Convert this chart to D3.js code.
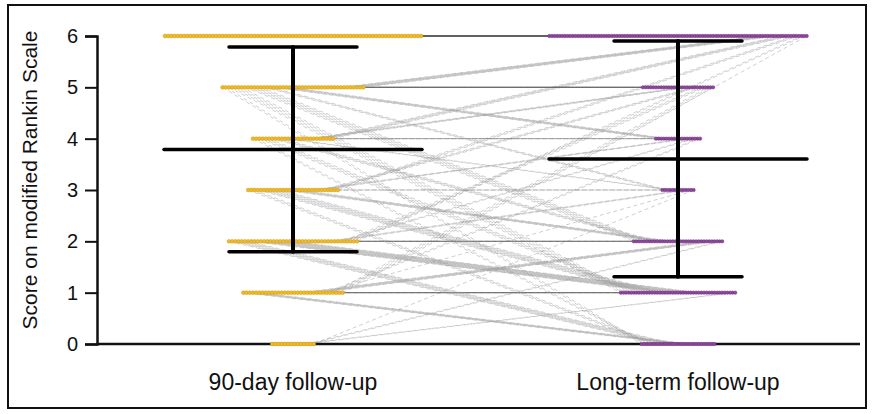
<!DOCTYPE html>
<html>
<head>
<meta charset="utf-8">
<script src="https://cdn.jsdelivr.net/npm/d3@7"></script>
<style>
  body { margin: 0; background: #fff; }
  text { font-family: "Liberation Sans", Arial, sans-serif; fill: #111; }
</style>
</head>
<body>
<svg id="chart" width="873" height="414"></svg>
<script>
// Categories (time points) and score levels
const categories = ["90-day follow-up", "Long-term follow-up"]
const scores = [0, 1, 2, 3, 4, 5, 6]
const yTicks = [0, 1, 2, 3, 4, 5, 6]

// Patient counts: row = score at 90 days, column = score at long-term follow-up
const transitions = [
  // to: 0  1   2   3  4   5   6
  [9, 2, 2, 1, 0, 0, 0],    // from 0
  [6, 12, 7, 1, 2, 3, 1],   // from 1
  [7, 14, 10, 3, 2, 3, 2],  // from 2
  [3, 8, 6, 3, 3, 3, 3],    // from 3
  [2, 4, 4, 2, 5, 4, 5],    // from 4
  [2, 5, 6, 3, 6, 15, 8],   // from 5
  [0, 0, 0, 0, 0, 0, 81]    // from 6
]

const colors = ["#f0bb2b", "#8e4a9c"]
const strokes = ["#d39b10", "#6f2c7e"]
const spacing = [3.2, 2.6]
const radius = [1.9, 1.7]

const margin = {top: 36, right: 13, bottom: 70, left: 97}
const width = 873
const height = 414

const svg = d3.select("#chart")

// frame
svg.append("rect")
    .attr("x", 8).attr("y", 5)
    .attr("width", 858).attr("height", 403)
    .attr("fill", "none")
    .attr("stroke", "#111")
    .attr("stroke-width", 2)

const y = d3.scaleLinear()
    .domain([0, 6])
    .range([height - margin.bottom, margin.top])

const x = d3.scalePoint()
    .domain(categories)
    .range([100.5, 870.5])
    .padding(0.5)

// Build patients from the transition table
let patients = []
transitions.forEach((row, from) => {
  row.forEach((n, to) => {
    for (let k = 0; k < n; k++) patients.push({from, to})
  })
})

// Place dots: left groups sorted by target ascending, right groups by source descending
function place(key, col, sorter) {
  scores.forEach(s => {
    const grp = patients.filter(p => p[key] === s).sort(sorter)
    const n = grp.length
    grp.forEach((p, i) => {
      p["x" + col] = x(categories[col]) + (i - (n - 1) / 2) * spacing[col]
    })
  })
}
place("from", 0, (a, b) => a.to - b.to)
place("to", 1, (a, b) => b.from - a.from)

// connecting lines
svg.append("g")
  .selectAll("line")
  .data(patients)
  .join("line")
    .attr("x1", d => d.x0)
    .attr("y1", d => y(d.from))
    .attr("x2", d => d.x1)
    .attr("y2", d => y(d.to))
    .attr("stroke", d => d.from === d.to ? "#666" : "#9a9a9a")
    .attr("stroke-opacity", d => d.from === d.to ? 0.4 : 0.6)
    .attr("stroke-width", 0.8)
    .attr("stroke-dasharray", "4,3")

// axes
const yAxis = svg.append("g")
    .attr("transform", `translate(${margin.left},0)`)
    .call(d3.axisLeft(y).tickValues(yTicks).tickFormat(d3.format("d")).tickSize(12).tickPadding(7))
yAxis.select(".domain").attr("stroke-width", 2.5).attr("stroke", "#111")
yAxis.selectAll(".tick line").attr("stroke-width", 2).attr("stroke", "#111")
yAxis.selectAll(".tick text")
    .attr("font-size", 20)
    .attr("font-family", "Liberation Sans, Arial, sans-serif")
    .style("fill", "#111")

svg.append("line")
    .attr("x1", margin.left).attr("x2", 860)
    .attr("y1", y(0)).attr("y2", y(0))
    .attr("stroke", "#111")
    .attr("stroke-width", 2.5)

// dots
categories.forEach((c, col) => {
  svg.append("g")
    .selectAll("circle")
    .data(patients)
    .join("circle")
      .attr("cx", d => d["x" + col])
      .attr("cy", d => y(col === 0 ? d.from : d.to))
      .attr("r", radius[col])
      .attr("fill", colors[col])
      .attr("stroke", strokes[col])
      .attr("stroke-width", 0.5)
})

// mean and SD bars
categories.forEach((c, col) => {
  const vals = patients.map(p => col === 0 ? p.from : p.to)
  const m = d3.mean(vals)
  const sd = d3.deviation(vals)
  const cx = x(c)
  const g = svg.append("g")
      .attr("stroke", "#000")
      .attr("stroke-linecap", "round")
  g.append("line")
      .attr("x1", cx).attr("x2", cx)
      .attr("y1", y(m - sd)).attr("y2", y(m + sd))
      .attr("stroke-width", 4)
  g.append("line")
      .attr("x1", cx - 129).attr("x2", cx + 129)
      .attr("y1", y(m)).attr("y2", y(m))
      .attr("stroke-width", 3.5)
  ;[m - sd, m + sd].forEach(v => {
    g.append("line")
        .attr("x1", cx - 64).attr("x2", cx + 64)
        .attr("y1", y(v)).attr("y2", y(v))
        .attr("stroke-width", 3.5)
  })
})

// category labels
svg.append("g")
  .selectAll("text")
  .data(categories)
  .join("text")
    .attr("x", d => x(d))
    .attr("y", 390)
    .attr("text-anchor", "middle")
    .attr("font-size", 23)
    .text(d => d)

// y-axis title
svg.append("text")
    .attr("transform", "translate(37,180) rotate(-90)")
    .attr("text-anchor", "middle")
    .attr("font-size", 21)
    .text("Score on modified Rankin Scale")
</script>
</body>
</html>
